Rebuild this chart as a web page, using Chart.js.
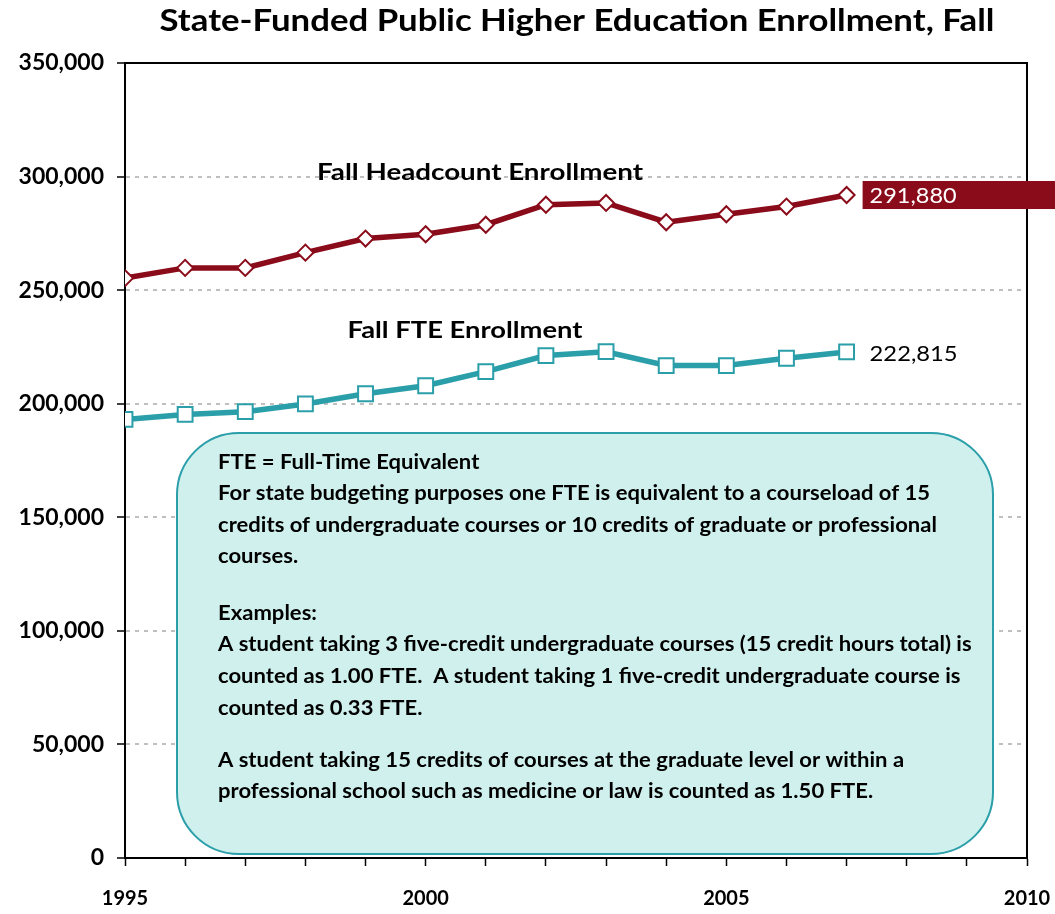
<!DOCTYPE html>
<html>
<head>
<meta charset="utf-8">
<script src="https://cdn.jsdelivr.net/npm/chart.js@4.4.1/dist/chart.umd.min.js"></script>
<style>
  html, body { margin: 0; padding: 0; background: #fff; }
  #wrap { width: 1055px; height: 914px; }
</style>
</head>
<body>
<div id="wrap"><canvas id="c" width="1055" height="914"></canvas></div>
<script>
const title = 'State-Funded Public Higher Education Enrollment, Fall';
const years = [1995, 1996, 1997, 1998, 1999, 2000, 2001, 2002, 2003, 2004, 2005, 2006, 2007];
const headcount = [255300, 259800, 259800, 266500, 272700, 274600, 278800, 287600, 288400, 279900, 283400, 286800, 291880];
const fte = [193100, 195300, 196500, 199900, 204400, 207900, 214100, 221200, 222900, 216800, 216800, 220000, 222815];
const seriesNames = ['Fall Headcount Enrollment', 'Fall FTE Enrollment'];
const xLabeledYears = [1995, 2000, 2005, 2010];
const yTickValues = [0, 50000, 100000, 150000, 200000, 250000, 300000, 350000];
const noteLines = [
  'FTE = Full-Time Equivalent',
  'For state budgeting purposes one FTE is equivalent to a courseload of 15',
  'credits of undergraduate courses or 10 credits of graduate or professional',
  'courses.',
  'Examples:',
  'A student taking 3 five-credit undergraduate courses (15 credit hours total) is',
  'counted as 1.00 FTE.  A student taking 1 five-credit undergraduate course is',
  'counted as 0.33 FTE.',
  'A student taking 15 credits of courses at the graduate level or within a',
  'professional school such as medicine or law is counted as 1.50 FTE.'
];
const noteLineY = [463, 494, 526, 557, 614, 645, 677, 709, 761, 792];

const RED = '#8a0b1a';
const TEAL = '#2a9ea9';
const FONT = 'Lato, "Open Sans", sans-serif';
const fmt = v => Math.round(v).toLocaleString('en-US');

// draw text stretched horizontally so that it spans targetWidth (align left or center)
function drawFit(ctx, text, x, y, targetWidth, align) {
  const w = ctx.measureText(text).width;
  const sx = targetWidth / w;
  ctx.save();
  ctx.textAlign = 'left';
  const x0 = align === 'center' ? x - targetWidth / 2 : x;
  ctx.translate(x0, y);
  ctx.scale(sx, 1);
  ctx.fillText(text, 0, 0);
  ctx.restore();
}

const decor = {
  id: 'decor',
  beforeDatasetsDraw(chart) {
    const ctx = chart.ctx, a = chart.chartArea;
    ctx.save();
    ctx.strokeStyle = '#000';
    ctx.lineWidth = 2;
    ctx.beginPath();
    ctx.moveTo(a.left, a.top);
    ctx.lineTo(a.right, a.top);
    ctx.lineTo(a.right, a.bottom);
    ctx.stroke();
    const bx = 177, by = 433, bw = 993 - 177, bh = 854 - 433, r = 62;
    ctx.beginPath();
    ctx.roundRect(bx, by, bw, bh, r);
    ctx.fillStyle = '#cff0ed';
    ctx.fill();
    ctx.lineWidth = 2;
    ctx.strokeStyle = TEAL;
    ctx.stroke();
    ctx.fillStyle = '#000';
    ctx.font = 'bold 20px ' + FONT;
    ctx.textBaseline = 'middle';
    const sx = 712 / ctx.measureText(noteLines[1]).width;
    noteLines.forEach((t, i) => {
      drawFit(ctx, t, 218, noteLineY[i], ctx.measureText(t).width * sx, 'left');
    });
    ctx.restore();
  },
  afterDatasetsDraw(chart) {
    const ctx = chart.ctx;
    const xs = chart.scales.x, ys = chart.scales.y;
    ctx.save();
    ctx.fillStyle = '#000';
    ctx.textBaseline = 'middle';
    ctx.font = 'bold 30px ' + FONT;
    drawFit(ctx, title, 577, 21, 835, 'center');
    ctx.font = 'bold 23px ' + FONT;
    drawFit(ctx, seriesNames[0], 480, 173, 326, 'center');
    drawFit(ctx, seriesNames[1], 465, 331, 235, 'center');
    const last = years.length - 1;
    const lx = xs.getPixelForValue(years[last]) + 16;
    const hy = ys.getPixelForValue(headcount[last]);
    ctx.fillStyle = RED;
    ctx.fillRect(lx, hy - 14, 1055 - lx, 28);
    ctx.font = '22px ' + FONT;
    ctx.fillStyle = '#fff';
    drawFit(ctx, fmt(headcount[last]), lx + 7, hy + 1, 87, 'left');
    const fy = ys.getPixelForValue(fte[last]);
    ctx.fillStyle = '#000';
    drawFit(ctx, fmt(fte[last]), lx + 7, fy + 2, 88, 'left');
    ctx.restore();
  }
};

new Chart(document.getElementById('c'), {
  type: 'line',
  data: {
    datasets: [
      {
        label: seriesNames[0],
        data: years.map((x, i) => ({ x, y: headcount[i] })),
        borderColor: RED,
        borderWidth: 5.5,
        pointStyle: 'rectRot',
        pointRadius: 8,
        pointBorderWidth: 2,
        pointBackgroundColor: '#fff',
        pointBorderColor: RED,
        tension: 0
      },
      {
        label: seriesNames[1],
        data: years.map((x, i) => ({ x, y: fte[i] })),
        borderColor: TEAL,
        borderWidth: 5.5,
        pointStyle: 'rect',
        pointRadius: 10.5,
        pointBorderWidth: 2,
        pointBackgroundColor: '#fff',
        pointBorderColor: TEAL,
        tension: 0
      }
    ]
  },
  options: {
    responsive: false,
    animation: false,
    events: [],
    layout: { padding: { top: 63, right: 28, left: 0, bottom: 0 } },
    plugins: { legend: { display: false }, title: { display: false }, tooltip: { enabled: false } },
    scales: {
      x: {
        type: 'linear',
        min: 1995,
        max: 2010,
        afterFit: s => { s.height = 56; s.paddingLeft = 0; s.paddingRight = 0; },
        afterBuildTicks: s => { s.ticks = years.concat([2008, 2009, 2010]).map(v => ({ value: v })); },
        ticks: {
          autoSkip: false,
          maxRotation: 0,
          padding: 21,
          color: '#000',
          font: { family: FONT, size: 20, weight: 'bold' },
          callback: v => xLabeledYears.includes(v) ? String(v) : ''
        },
        grid: { drawOnChartArea: false, drawTicks: true, tickLength: 8, tickColor: '#000', tickWidth: 1.5 },
        border: { color: '#000', width: 2 }
      },
      y: {
        min: 0,
        max: 350000,
        afterFit: s => { s.width = 125; s.paddingTop = 0; s.paddingBottom = 0; },
        afterBuildTicks: s => { s.ticks = yTickValues.map(v => ({ value: v })); },
        ticks: {
          padding: 13,
          color: '#000',
          font: { family: FONT, size: 23, weight: 'bold' },
          callback: v => fmt(v)
        },
        grid: { color: '#bfbfbf', lineWidth: 2, tickColor: '#000', tickLength: 8, tickWidth: 1.5, tickBorderDash: [] },
        border: { color: '#000', width: 2, dash: [4, 5] }
      }
    }
  },
  plugins: [decor]
});
</script>
</body>
</html>
